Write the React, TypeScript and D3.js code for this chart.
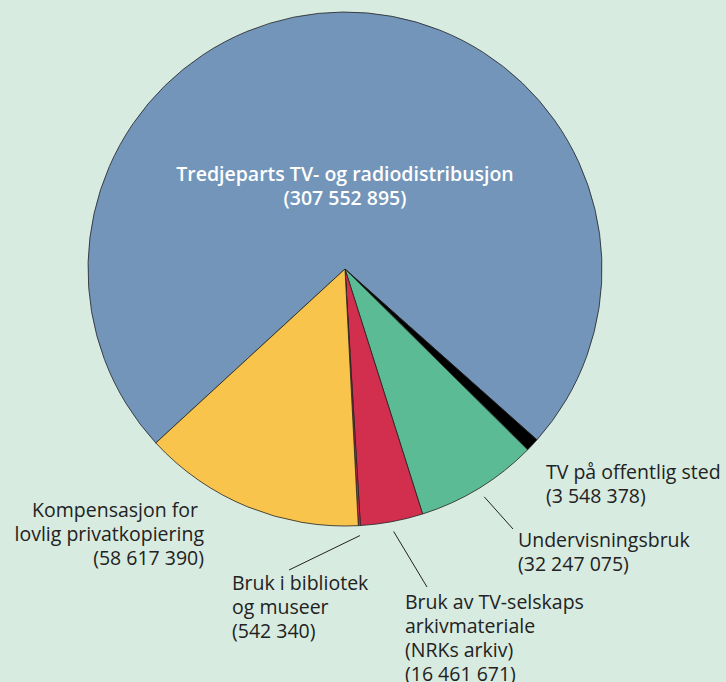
import React, { useEffect, useRef } from "react";
import * as d3 from "d3";

const categories = [
  "Tredjeparts TV- og radiodistribusjon",
  "TV på offentlig sted",
  "Undervisningsbruk",
  "Bruk av TV-selskaps arkivmateriale (NRKs arkiv)",
  "Bruk i bibliotek og museer",
  "Kompensasjon for lovlig privatkopiering",
];
const values = [307552895, 3548378, 32247075, 16461671, 542340, 58617390];
const colors = ["#7295b9", "#000000", "#5bbb94", "#d22f4f", "#d22f4f", "#f8c44c"];
const labelLines = [
  ["Tredjeparts TV- og radiodistribusjon", "(307 552 895)"],
  ["TV på offentlig sted", "(3 548 378)"],
  ["Undervisningsbruk", "(32 247 075)"],
  ["Bruk av TV-selskaps", "arkivmateriale", "(NRKs arkiv)", "(16 461 671)"],
  ["Bruk i bibliotek", "og museer", "(542 340)"],
  ["Kompensasjon for", "lovlig privatkopiering", "(58 617 390)"],
];

const W = 726;
const H = 682;

const App = () => {
  const ref = useRef<SVGSVGElement>(null);

  useEffect(() => {
    const svg = d3.select(ref.current);
    svg.selectAll("*").remove();

    const cx = 345, cy = 269, r = 257;
    const start = (-132.6 * Math.PI) / 180;

    svg.append("rect").attr("width", W).attr("height", H).attr("fill", "#d7ebe0");

    const pie = d3.pie<number>().sort(null).startAngle(start).endAngle(start + 2 * Math.PI);
    const arcs = pie(values);
    const arc = d3.arc<d3.PieArcDatum<number>>().innerRadius(0).outerRadius(r);

    const g = svg.append("g").attr("transform", `translate(${cx},${cy})`);
    g.selectAll("path")
      .data(arcs)
      .join("path")
      .attr("d", arc)
      .attr("fill", (d, i) => colors[i])
      .attr("stroke", "#222")
      .attr("stroke-width", 0.8);

    const font = "'Open Sans', sans-serif";
    const lh = 24;

    // label anchors relative to the pie center: [x, y of first baseline, anchor]
    const placements: [number, number, string][] = [
      [0, -88, "middle"],
      [201, 210, "start"],
      [173, 278, "start"],
      [60, 340, "start"],
      [-113, 321, "start"],
      [-141, 248, "end"],
    ];

    labelLines.forEach((lines, i) => {
      const [lx, ly, anchor] = placements[i];
      const t = g.append("text")
        .attr("x", lx)
        .attr("y", ly)
        .attr("text-anchor", anchor)
        .style("font-family", font)
        .style("font-size", i === 0 ? "19.5px" : "19.5px")
        .style("font-weight", i === 0 ? 600 : 400)
        .attr("fill", i === 0 ? "#ffffff" : "#222222");
      lines.forEach((s, j) => {
        t.append("tspan")
          .attr("x", i === 5 && j === 0 ? lx - 6 : lx)
          .attr("dy", j === 0 ? 0 : lh)
          .text(s);
      });
    });

    // leader lines from slice edge toward its label
    const leaders: [number, number, number][] = [
      [2, 168, 260],
      [3, 82, 318],
      [4, -56, 301],
    ];
    leaders.forEach(([i, ex, ey]) => {
      const a = (arcs[i].startAngle + arcs[i].endAngle) / 2;
      const rr = r + 10;
      g.append("line")
        .attr("x1", Math.sin(a) * rr)
        .attr("y1", -Math.cos(a) * rr)
        .attr("x2", ex)
        .attr("y2", ey)
        .attr("stroke", "#222")
        .attr("stroke-width", 1);
    });
  }, []);

  return (
    <svg
      ref={ref}
      width={W}
      height={H}
      style={{ position: "absolute", left: 0, top: 0 }}
    />
  );
};

export default App;
